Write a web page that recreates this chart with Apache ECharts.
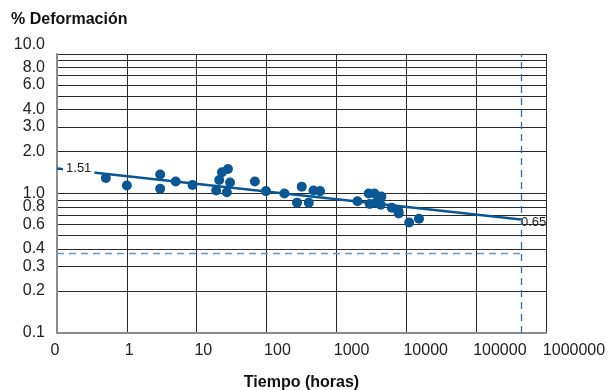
<!DOCTYPE html>
<html>
<head>
<meta charset="utf-8">
<script src="https://cdn.jsdelivr.net/npm/echarts@6/dist/echarts.min.js"></script>
<style>
html, body { margin: 0; padding: 0; background: #fff; }
#grafico { width: 613px; height: 390px; }
</style>
</head>
<body>
<div id="grafico"></div>
<script>
// datos de ensayo (horas, % deformacion)
var horas = [0.5, 1, 3, 3, 5, 8.7, 19, 21, 23, 28, 30, 27, 68, 98, 180, 273, 319, 402, 469, 583,
    2000, 2900, 3500, 4400, 3000, 3700, 4300, 6200, 7700, 7800, 11000, 15200];
var deformacion = [1.29, 1.14, 1.37, 1.08, 1.22, 1.15, 1.05, 1.25, 1.42, 1.50, 1.20, 1.02, 1.22, 1.04, 1.00, 0.86,
    1.12, 0.86, 1.05, 1.04, 0.88, 1.00, 1.00, 0.95, 0.84, 0.86, 0.83, 0.79, 0.75, 0.72, 0.62, 0.66];

// recta de ajuste
var ajusteX = [0.1, 438000];
var ajusteY = [1.51, 0.65];

// lineas de referencia (50 años)
var refX = 438000;
var refY = 0.37;

// ejes
var marcasX = [0.1, 1, 10, 100, 1000, 10000, 100000, 1000000];
var lineasY = [0.1, 0.2, 0.3, 0.4, 0.5, 0.6, 0.7, 0.8, 0.9, 1, 2, 3, 4, 5, 6, 7, 8, 9, 10];
var etiquetasY = [0.1, 0.2, 0.3, 0.4, 0.6, 0.8, 1, 2, 3, 4, 6, 8, 10];

var azul = '#0b5794';
var fuente = 'Liberation Sans, Arial, sans-serif';

var puntos = horas.map(function (h, i) { return [h, deformacion[i]]; });

var grafico = echarts.init(document.getElementById('grafico'));

grafico.setOption({
    animation: false,
    backgroundColor: '#fff',
    title: {
        text: '% Deformación',
        left: 11,
        top: 12,
        padding: 0,
        textStyle: { fontFamily: fuente, fontSize: 16, fontWeight: 'bold', color: '#111' }
    },
    grid: [
        { left: 57, right: 67, top: 54, bottom: 57, outerBoundsMode: 'none', containLabel: false },
        // rejilla solo para las etiquetas del eje x
        { left: 55, right: 39, top: 54, bottom: 57, outerBoundsMode: 'none', containLabel: false }
    ],
    xAxis: [{
        type: 'log',
        gridIndex: 0,
        logBase: 10,
        min: 0.1,
        max: 1000000,
        name: 'Tiempo (horas)',
        nameLocation: 'middle',
        nameGap: 42,
        nameTextStyle: { fontFamily: fuente, fontSize: 16, fontWeight: 'bold', color: '#111' },
        axisLine: { show: true, lineStyle: { color: '#8c8c8c', width: 2 } },
        axisTick: { show: false, customValues: marcasX },
        axisLabel: { show: false },
        splitLine: { show: true, lineStyle: { color: '#2a2a2a', width: 1 } }
    }, {
        type: 'log',
        gridIndex: 1,
        logBase: 10,
        min: 0.1,
        max: 1000000,
        axisLine: { show: false },
        axisTick: { show: false, customValues: marcasX },
        splitLine: { show: false },
        axisLabel: {
            customValues: marcasX,
            margin: 10,
            fontFamily: fuente,
            fontSize: 16,
            color: '#222',
            formatter: function (v) { return v < 1 ? '0' : String(Math.round(v)); }
        }
    }],
    yAxis: [{
        type: 'log',
        gridIndex: 0,
        logBase: 10,
        min: 0.1,
        max: 10,
        axisLine: { show: true, lineStyle: { color: '#8c8c8c', width: 2 } },
        axisTick: { show: false, customValues: lineasY },
        axisLabel: {
            customValues: etiquetasY,
            showMaxLabel: true,
            hideOverlap: false,
            margin: 12,
            fontFamily: fuente,
            fontSize: 16,
            color: '#222',
            formatter: function (v) {
                var t = Number(v).toFixed(1);
                return v >= 10 ? '{arriba|' + t + '}' : t;
            },
            rich: {
                arriba: { fontFamily: fuente, fontSize: 16, color: '#222', padding: [0, 0, 18, 0] }
            }
        },
        splitLine: { show: true, lineStyle: { color: '#2a2a2a', width: 1 } }
    }, {
        type: 'value',
        gridIndex: 1,
        show: false
    }],
    series: [{
        type: 'line',
        xAxisIndex: 0,
        yAxisIndex: 0,
        symbol: 'circle',
        symbolSize: 0.1,
        lineStyle: { color: azul, width: 2.5 },
        itemStyle: { color: azul },
        data: [{
            value: [ajusteX[0], ajusteY[0]],
            label: {
                show: true, position: 'right', distance: 6,
                backgroundColor: '#fff', padding: [0, 3],
                fontFamily: fuente, fontSize: 13, color: '#222',
                formatter: function (p) { return p.value[1].toFixed(2); }
            }
        }, {
            value: [ajusteX[1], ajusteY[1]],
            label: {
                show: true, position: 'right', distance: 0, offset: [0, 3],
                fontFamily: fuente, fontSize: 13, color: '#222',
                formatter: function (p) { return p.value[1].toFixed(2); }
            }
        }],
        z: 3
    }, {
        type: 'scatter',
        xAxisIndex: 0,
        yAxisIndex: 0,
        symbolSize: 10,
        itemStyle: { color: azul, opacity: 1 },
        data: puntos,
        z: 4,
        markLine: {
            silent: true,
            symbol: 'none',
            label: { show: false },
            data: [
                [{ coord: [ajusteX[0], refY], lineStyle: { color: '#6a9bc8', type: [7, 5], width: 1.3 } },
                 { coord: [refX, refY] }],
                [{ coord: [refX, 0.1], lineStyle: { color: '#2770b2', type: [7, 5], width: 1.3 } },
                 { coord: [refX, 10] }]
            ]
        }
    }]
});
</script>
</body>
</html>
